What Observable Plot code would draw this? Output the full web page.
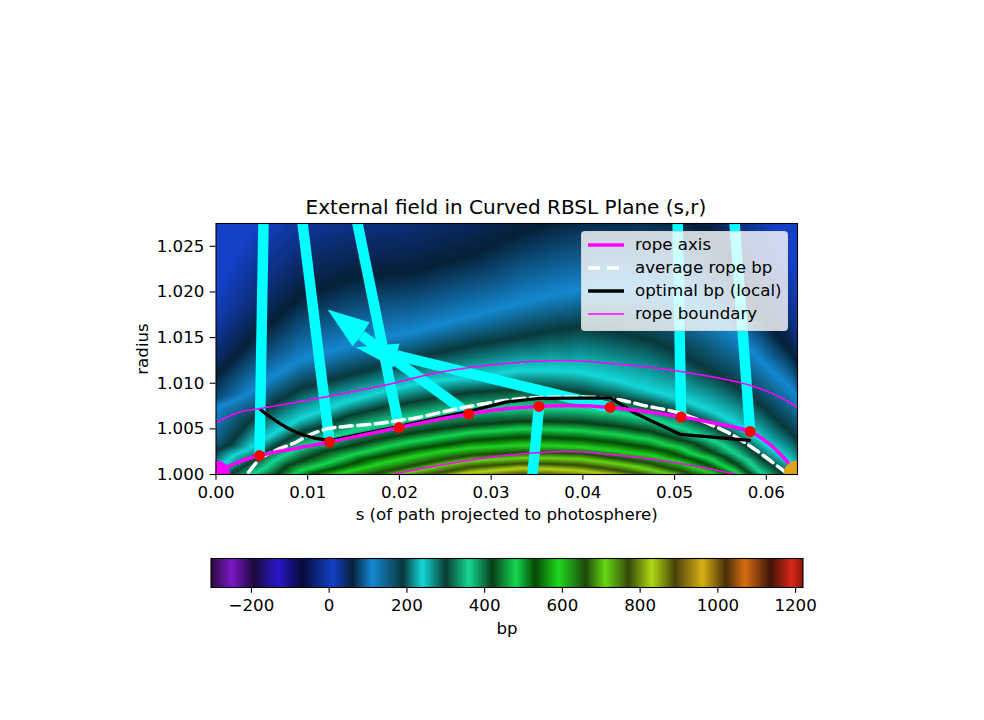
<!DOCTYPE html>
<html><head><meta charset="utf-8">
<script src="https://cdn.jsdelivr.net/npm/d3@7"></script>
<script src="https://cdn.jsdelivr.net/npm/@observablehq/plot@0.6"></script>
<style>
html,body{margin:0;padding:0;background:#fff;font-family:"DejaVu Sans",sans-serif;width:984px;height:720px;overflow:hidden;position:relative}
#title{height:222px;box-sizing:border-box;padding-top:195px;text-align:center;font-size:20px;line-height:24px;padding-left:28px;color:#000;white-space:nowrap}
svg{display:block}
#legend{position:absolute;left:580.5px;top:231px;width:207.5px;height:100px;box-sizing:border-box;background:rgba(255,255,255,.8);border:1px solid rgba(204,204,204,.8);border-radius:4px;font-size:16.67px;color:#000}
#legend .row{position:absolute;left:0;height:18px;line-height:18px;white-space:nowrap}
#legend svg{position:absolute;left:6px;top:0}
#legend span{position:absolute;left:53.5px;top:0}
</style></head><body>
<div id="title">External field in Curved RBSL Plane (s,r)</div>
<div id="main"></div>
<div id="cbar"></div>
<div id="legend"></div>
<script>
// colour map of the field
const cmapValues = [-304,-250,-195,-130,-70,10,60,110,190,240,300,360,420,480,530,590,660,710,770,830,890,960,1020,1070,1135,1190,1219];
const cmapColors = ["#2a0a40","#7a16c8","#1e0a3c","#2818c8","#050a38","#1440c8","#052038","#1488d0","#08383c","#14d8d8","#083c30","#14d890","#083c18","#14d850","#034803","#20d820","#1c4808","#68d814","#344808","#b0d814","#484008","#d8b014","#483008","#d86c14","#401408","#d82814","#8a1408"];

// field: radius (r-1, thousandths) at which each bp level is met, per s column
const fieldS = [-0.00224,0.00376,0.00649,0.00921,0.01467,0.01794,0.02121,0.02448,0.02776,0.0332,0.03648,0.03975,0.04356,0.04738,0.05065,0.05393,0.05665,0.05938,0.06265,0.06538];
const fieldLevels = [10,35,60,110,190,240,300,360,420,480,530,590,660,710,770,830,880,960];
const fieldRadius = [
 [15.8,26.8,29,31.1,35.5,36,36.6,37.2,37.7,37.7,37.7,37.7,37.3,36.6,35.4,33.3,33.3,33.3,24,12.5],
 [11.4,19.1,22.2,25.1,27.0,27.8,28.4,29.8,31.1,33.3,33.3,33.3,33.2,32.8,31.8,30.0,27.5,22.9,17,10.9],
 [8.1,14.7,16.9,19.4,21.5,21.9,22.1,23.1,24.0,26.5,27.6,28.4,28.6,28.7,28.0,26.5,22.5,17.4,13.5,9.4],
 [3.7,9.0,10.9,12.5,14.1,14.9,15.5,16.4,17.3,18.8,19.6,20.3,20.6,20.7,19.5,17.4,15.4,12.5,9.5,5.9],
 [0.4,5.9,7.8,9.4,10.9,11.8,12.5,13.4,14.1,15.1,15.7,16.2,15.6,14.7,13.2,11.2,9.7,7.6,4.6,1.0],
 [-2.9,2.9,4.6,6.1,8.1,9.0,9.8,10.3,10.6,11.4,11.4,11.2,10.3,9.2,8.3,7.0,5.6,3.7,1.3,-1.8],
 [-5.0,1.3,3.1,4.6,6.5,7.3,7.9,8.5,9.0,9.4,9.3,9.0,8.4,7.6,6.7,5.4,3.9,1.8,-0.8,-3.9],
 [-7.2,-0.1,1.6,3.0,4.7,5.5,6.2,6.7,7.1,7.3,7.3,7.2,6.8,6.1,5.1,3.8,2.3,0.2,-2.4,-5.6],
 [-8.9,-1.8,-0.1,1.5,3.1,3.9,4.5,5.0,5.4,5.8,5.8,5.7,5.3,4.7,3.8,2.5,1.2,-0.6,-3.0,-6.1],
 [-10.5,-2.9,-1.2,0.4,2.1,2.9,3.6,4.1,4.6,5.0,4.95,4.8,4.4,3.8,2.9,1.7,0.3,-1.4,-4.0,-7.2],
 [-12.2,-4.2,-2.4,-0.7,1.1,2.0,2.7,3.2,3.7,4.1,4.05,3.9,3.5,2.9,2.0,0.9,-0.4,-2.2,-5.0,-8.3],
 [-13.8,-5.6,-3.6,-1.8,0.4,1.2,1.9,2.5,2.9,3.2,3.15,3.0,2.6,2.1,1.3,0.2,-1.1,-2.9,-5.8,-9.4],
 [-15.4,-7.2,-5,-3.2,-0.6,0.2,0.9,1.6,2.1,2.4,2.4,2.3,1.8,1.2,0.4,-0.7,-2.3,-4.3,-7,-10.5],
 [-17.1,-8.3,-6,-4.2,-1.4,-0.5,0.3,1.0,1.5,1.8,1.8,1.7,1.2,0.5,-0.3,-1.4,-3.1,-5.4,-8.2,-11.6],
 [-18.7,-10,-7.5,-5.3,-2.8,-1.5,-0.5,0.2,0.8,1.2,1.15,1.0,0.5,-0.2,-1.0,-2.0,-3.9,-6.5,-9.3,-12.7],
 [-20.4,-11.1,-8.6,-6.4,-3.9,-2.5,-1.3,-0.4,0.2,0.7,0.6,0.4,-0.1,-0.8,-1.8,-3.1,-5.0,-7.6,-10.5,-13.8],
 [-22,-12.7,-10.3,-8.1,-5.0,-3.5,-2.3,-1.2,-0.4,0.1,0,-0.2,-0.7,-1.4,-2.6,-4.2,-6.1,-8.7,-11.6,-14.9],
 [-23.7,-14.9,-12.5,-10.3,-6.6,-5.1,-3.9,-2.6,-1.5,-0.9,-1.0,-1.2,-1.7,-2.4,-3.8,-5.5,-7.8,-10.9,-13.8,-17.1]
];

// curves: [s, r-1]
const ropeAxis = [[0,0],[0.0007,0.00055],[0.00267,0.00143],[0.00474,0.00208],[0.00921,0.00296],[0.01238,0.00356],[0.0163,0.00439],[0.01996,0.00515],[0.02372,0.00592],[0.02754,0.00663],[0.03135,0.00718],[0.03522,0.00746],[0.0391,0.00757],[0.04297,0.00735],[0.04684,0.00691],[0.05071,0.0063],[0.05458,0.00559],[0.05823,0.00471],[0.06025,0.0034],[0.06189,0.00186],[0.0634,0]];
const averageBp = [[0.00354,0.00022],[0.00485,0.00175],[0.00649,0.00263],[0.00867,0.00351],[0.01009,0.00428],[0.01227,0.00504],[0.01412,0.00526],[0.01772,0.00559],[0.0199,0.00592],[0.02208,0.00625],[0.02645,0.00724],[0.03157,0.00811],[0.03539,0.00844],[0.04302,0.00833],[0.04662,0.00757],[0.05065,0.00669],[0.05578,0.00461],[0.05862,0.00285],[0.06156,0.00066],[0.06243,0]];
const optimalBp = [[0.00485,0.00713],[0.00551,0.00658],[0.00616,0.00614],[0.00703,0.00554],[0.00791,0.00504],[0.00878,0.00461],[0.00976,0.00428],[0.01085,0.00395],[0.01238,0.00373],[0.0199,0.00526],[0.02754,0.00691],[0.03157,0.00793],[0.03506,0.00833],[0.04302,0.00839],[0.04553,0.0068],[0.05065,0.00439],[0.05818,0.00373]];
const upperBoundary = [[0,0.0057],[0.00245,0.0068],[0.00485,0.00724],[0.01161,0.00844],[0.01925,0.00998],[0.02426,0.01118],[0.03157,0.01217],[0.03833,0.0125],[0.04302,0.01217],[0.05065,0.01129],[0.05829,0.00976],[0.06156,0.00844],[0.06341,0.00735]];
const lowerBoundary = [[0.01925,0],[0.02426,0.00099],[0.03157,0.00208],[0.03833,0.00252],[0.04302,0.00219],[0.05065,0.00121],[0.05676,0]];
const samplePoints = [[0.00474,0.00208],[0.01238,0.00356],[0.01996,0.00515],[0.02754,0.00663],[0.03522,0.00746],[0.04297,0.00735],[0.05071,0.0063],[0.05823,0.00471]];
// field vectors: base [s, r-1] to end [s, r-1]
const vectorEnds = [[0.00522,0.03],[0.00913,0.03],[0.01492,0.03],[0.01587,0.01524],[0.03424,-0.00285],[0.01968,0.01305],[0.05029,0.03],[0.05636,0.03]];
const arrowHeads = [
 [[0.01216,0.01809],[0.01674,0.01667],[0.01587,0.01524],[0.01489,0.01404]],
 [[0.01521,0.01393],[0.02001,0.01436],[0.01968,0.01305],[0.01936,0.01173]]
];
const footpoints = [{s:0,r:1,c:"#ff00ff"},{s:0.0634,r:1,c:"#daa520"}];
const xTicks = [0,0.01,0.02,0.03,0.04,0.05,0.06];
const yTicks = [1,1.005,1.01,1.015,1.02,1.025];
const cbTicks = [-200,0,200,400,600,800,1000,1200];
const cbDomain = [-304,1219];

const legendItems = [
 {label:"rope axis",color:"#ff00ff",w:3.5,dash:null},
 {label:"average rope bp",color:"#fff",w:3.5,dash:"12,7"},
 {label:"optimal bp (local)",color:"#000",w:3.5,dash:null},
 {label:"rope boundary",color:"#ff00ff",w:1.6,dash:null}
];

const toPt = ([s,r]) => ({s, r:1+r});
const fieldPoints = fieldLevels.flatMap((v,i)=>fieldS.map((s,j)=>({s,r:1+fieldRadius[i][j]/1000,v})));
const colorScale = {type:"linear",domain:cmapValues,range:cmapColors,interpolate:"rgb",clamp:true,legend:false};
const style = {fontFamily:"DejaVu Sans",fontSize:"16.67px",background:"transparent",color:"#000"};
const vectors = samplePoints.map((b,i)=>({x1:b[0],y1:1+b[1],x2:vectorEnds[i][0],y2:1+vectorEnds[i][1]}));
const heads = arrowHeads.flatMap((h,i)=>h.map(p=>({...toPt(p),i})));
const line = (data,o) => Plot.line(data.map(toPt),{x:"s",y:"r",clip:"frame",curve:"linear",...o});

const main = Plot.plot({
  width:984,height:308,marginLeft:215.5,marginRight:187,marginTop:1,marginBottom:56,
  style,
  x:{domain:[0,0.0634],label:null},
  y:{domain:[1,1.0275],label:null},
  color:colorScale,
  marks:[
    Plot.raster(fieldPoints,{x:"s",y:"r",fill:"v",interpolate:"barycentric",pixelSize:1}),
    Plot.link(vectors,{x1:"x1",y1:"y1",x2:"x2",y2:"y2",stroke:"#00ffff",strokeWidth:10.5,clip:"frame"}),
    Plot.line(heads,{x:"s",y:"r",z:"i",fill:"#00ffff",stroke:"none",clip:"frame"}),
    line(averageBp,{stroke:"#fff",strokeWidth:3.5,strokeDasharray:"12,5.5",curve:"catmull-rom"}),
    line(optimalBp,{stroke:"#000",strokeWidth:3.2}),
    line(ropeAxis,{stroke:"#ff00ff",strokeWidth:3.5,curve:"catmull-rom"}),
    line(upperBoundary,{stroke:"#ff00ff",strokeWidth:1.5,curve:"catmull-rom"}),
    line(lowerBoundary,{stroke:"#ff00ff",strokeWidth:1.5,curve:"catmull-rom"}),
    Plot.dot(footpoints,{x:"s",y:"r",r:14,fill:d=>d.c,stroke:"none",clip:"frame"}),
    Plot.dot(samplePoints.map(toPt),{x:"s",y:"r",r:5.5,fill:"#ff0000",stroke:"none"}),
    Plot.frame({stroke:"#000",strokeWidth:1.1}),
    Plot.axisX({ticks:xTicks,tickFormat:d3.format(".2f"),tickSize:5.8,tickPadding:5.8,label:"s (of path projected to photosphere)",labelAnchor:"center",labelArrow:"none",labelOffset:45,strokeWidth:1.1}),
    Plot.axisY({ticks:yTicks,tickFormat:d3.format(".3f"),tickSize:5.8,tickPadding:5.8,label:"radius",labelAnchor:"center",labelArrow:"none",labelOffset:80,strokeWidth:1.1})
  ]
});
document.getElementById("main").append(main);

const cbar = Plot.plot({
  width:984,height:110,marginLeft:210.5,marginRight:181.5,marginTop:28,marginBottom:53,
  style,
  x:{domain:cbDomain,label:null},
  y:{domain:[0,1],axis:null},
  color:colorScale,
  marks:[
    Plot.raster({fill:(x,y)=>x,pixelSize:1,x1:cbDomain[0],x2:cbDomain[1],y1:0,y2:1}),
    Plot.frame({stroke:"#000",strokeWidth:1.1}),
    Plot.axisX({ticks:cbTicks,tickFormat:d3.format(""),tickSize:5.8,tickPadding:5.8,label:"bp",labelAnchor:"center",labelArrow:"none",labelOffset:46,strokeWidth:1.1})
  ]
});
document.getElementById("cbar").append(cbar);

const lg = document.getElementById("legend");
legendItems.forEach((it,i)=>{
  const row = document.createElement("div");
  row.className="row"; row.style.top=(4+i*23.1)+"px"; row.style.width="100%";
  row.innerHTML=`<svg width="38" height="18"><line x1="0" y1="9" x2="36" y2="9" stroke="${it.color}" stroke-width="${it.w}" ${it.dash?`stroke-dasharray="${it.dash}"`:""}/></svg><span>${it.label}</span>`;
  lg.append(row);
});
</script>
</body></html>
